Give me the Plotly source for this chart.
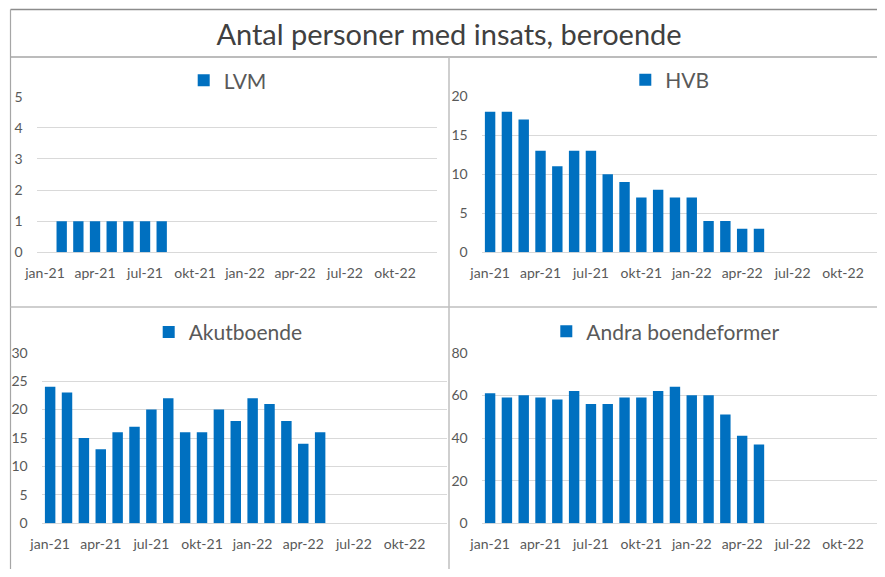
import plotly.graph_objects as go

# ---------------- data ----------------
months = ["jan-21", "feb-21", "mar-21", "apr-21", "maj-21", "jun-21",
          "jul-21", "aug-21", "sep-21", "okt-21", "nov-21", "dec-21",
          "jan-22", "feb-22", "mar-22", "apr-22", "maj-22", "jun-22",
          "jul-22", "aug-22", "sep-22", "okt-22", "nov-22", "dec-22"]
tick_labels = ["jan-21", "apr-21", "jul-21", "okt-21",
               "jan-22", "apr-22", "jul-22", "okt-22"]

lvm = [None, 1, 1, 1, 1, 1, 1, 1, None, None, None, None,
       None, None, None, None, None, None, None, None, None, None, None, None]
hvb = [18, 18, 17, 13, 11, 13, 13, 10, 9, 7, 8, 7,
       7, 4, 4, 3, 3, None, None, None, None, None, None, None]
akut = [24, 23, 15, 13, 16, 17, 20, 22, 16, 16, 20, 18,
        22, 21, 18, 14, 16, None, None, None, None, None, None, None]
andra = [61, 59, 60, 59, 58, 62, 56, 56, 59, 59, 62, 64,
         60, 60, 51, 41, 37, None, None, None, None, None, None, None]

title_text = "Antal personer med insats, beroende"
series_names = ["LVM", "HVB", "Akutboende", "Andra boendeformer"]

# ---------------- layout helpers ----------------
WIN_W, WIN_H = 885, 577
OFF = 8                      # default page body margin
W, H = WIN_W - 2 * OFF, WIN_H - 2 * OFF
BAR = "#0070C0"
TXT = "#595959"
GRID = "#d9d9d9"
FONT = "Lato, 'Liberation Sans', sans-serif"


def px_x(p):
    return min(max((p - OFF) / W, 0.0), 1.0)


def px_y(p):
    return min(max(1 - (p - OFF) / H, 0.0), 1.0)


panels = [
    # name, values, x left/right (window px), y top/bottom (window px), range, dtick, legend text start, legend y
    (series_names[0], lvm, (36.7, 436.7), (96.7, 252.3), [0, 5], 1, 221.7, 80.7),
    (series_names[1], hvb, (481.7, 885.0), (96.0, 252.3), [0, 20], 5, 663.3, 80.0),
    (series_names[2], akut, (41.7, 446.7), (352.7, 523.3), [0, 30], 5, 186.7, 332.3),
    (series_names[3], andra, (481.7, 885.0), (352.7, 523.3), [0, 80], 20, 584.3, 331.7),
]

fig = go.Figure()
layout_upd = {}
for i, (name, vals, xd, yd, rng, dt, lgx, lgy) in enumerate(panels):
    n = "" if i == 0 else str(i + 1)
    fig.add_trace(go.Bar(
        x=months, y=vals, name=name,
        marker=dict(color=BAR, line=dict(width=0)),
        xaxis="x" + n, yaxis="y" + n,
        legend="legend" + n,
        showlegend=True,
    ))
    band = (xd[1] - xd[0]) / len(months)
    right_px = min(xd[1], OFF + W)
    x_end = -0.5 + (right_px - xd[0]) / band
    layout_upd["xaxis" + n] = dict(
        domain=[px_x(xd[0]), px_x(right_px)],
        anchor="y" + n,
        type="category",
        categoryorder="array", categoryarray=months,
        range=[-0.5, x_end],
        tickmode="array", tickvals=tick_labels, ticktext=tick_labels,
        showgrid=False, showline=False, zeroline=False, ticks="",
        tickfont=dict(family=FONT, size=14, color=TXT),
        ticklabelstandoff=11,
        automargin=False,
        fixedrange=True,
    )
    layout_upd["yaxis" + n] = dict(
        domain=[px_y(yd[1]), px_y(yd[0])],
        anchor="x" + n,
        range=rng, dtick=dt, tick0=0,
        showgrid=True, gridcolor=GRID, gridwidth=1,
        zeroline=True, zerolinecolor=GRID, zerolinewidth=1,
        showline=False, ticks="",
        tickfont=dict(family=FONT, size=14, color=TXT),
        ticklabelstandoff=13,
        automargin=False,
        fixedrange=True,
    )
    layout_upd["legend" + n] = dict(
        x=px_x(lgx - 38), y=px_y(lgy),
        xanchor="left", yanchor="middle",
        orientation="h",
        font=dict(family=FONT, size=21, color=TXT),
        bgcolor="rgba(0,0,0,0)",
        itemwidth=30,
    )

fig.update_layout(**layout_upd)

line_dark = "#8c8c8c"
line_mid = "#a6a6a6"
line_light = "#bfbfbf"
shapes = [
    dict(type="line", xref="paper", yref="paper",
         x0=px_x(10.5), x1=1, y0=px_y(9.5), y1=px_y(9.5),
         line=dict(color=line_dark, width=1.5)),
    dict(type="line", xref="paper", yref="paper",
         x0=px_x(10.5), x1=1, y0=px_y(57), y1=px_y(57),
         line=dict(color=line_mid, width=1.5)),
    dict(type="line", xref="paper", yref="paper",
         x0=px_x(10.5), x1=px_x(10.5), y0=0, y1=px_y(9.5),
         line=dict(color=line_mid, width=1.2)),
    dict(type="line", xref="paper", yref="paper",
         x0=px_x(449), x1=px_x(449), y0=0, y1=px_y(57),
         line=dict(color=line_light, width=1.5)),
    dict(type="line", xref="paper", yref="paper",
         x0=px_x(10.5), x1=1, y0=px_y(307), y1=px_y(307),
         line=dict(color=line_light, width=1.5)),
]

fig.update_layout(
    width=W, height=H, autosize=False,
    margin=dict(l=0, r=0, t=0, b=0, pad=0, autoexpand=False),
    paper_bgcolor="white", plot_bgcolor="white",
    bargap=0.38,
    title=dict(text=title_text, x=px_x(449), xanchor="center",
               y=px_y(35), yanchor="middle", automargin=False,
               font=dict(family="Lato, 'Noto Sans', sans-serif", size=29, color="#404040")),
    shapes=shapes,
)

fig.write_html("out.html")
